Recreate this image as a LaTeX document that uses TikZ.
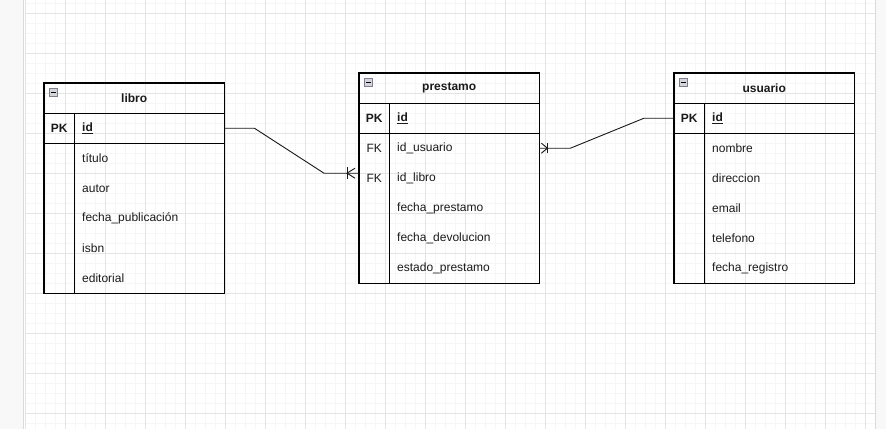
\documentclass[tikz,border=0pt]{standalone}
\usepackage{fontspec}
\setmainfont{Liberation Sans}
\usetikzlibrary{calc}
\definecolor{gridminor}{HTML}{F6F6F6}
\definecolor{gridmajor}{HTML}{E4E4E4}
\definecolor{panel}{HTML}{F8F8F8}
\definecolor{paneledge}{HTML}{DADADA}
\definecolor{txt}{HTML}{1A1A1A}
\definecolor{icfill}{HTML}{D4D4DC}
\definecolor{icedge}{HTML}{7E7E8E}
\tikzset{
  frame/.style={draw=black, line width=1.1pt},
  hdr/.style={anchor=north west, minimum width=180pt, minimum height=30pt, inner sep=0pt, font=\fontsize{12pt}{14pt}\selectfont\bfseries, text=txt},
  keyc/.style={anchor=north west, minimum width=30pt, minimum height=30pt, inner sep=0pt, text=txt},
  fieldc/.style={anchor=north west, text width=134pt, inner xsep=8pt, inner ysep=0pt, minimum height=30pt, align=left, text=txt},
  icon/.style={anchor=north west, draw=icedge, fill=icfill, line width=0.8pt, minimum size=8pt, inner sep=0pt},
  conn/.style={draw=black!90, line width=0.9pt},
  gminor/.style={draw=gridminor, line width=0.8pt},
  gmajor/.style={draw=gridmajor, line width=0.9pt},
}
\newcommand{\minusic}[1]{\draw[black, line width=0.9pt] ($(#1.center)+(-2.5,0)$) -- ($(#1.center)+(2.5,0)$);}
\begin{document}
\begin{tikzpicture}[x=1pt,y=-1pt, font=\fontsize{12pt}{14pt}\selectfont]
\useasboundingbox (0,0) rectangle (886,429);
\fill[white] (0,0) rectangle (886,429);
% side panels
\fill[panel] (0,0) rectangle (23,429);
\draw[paneledge, line width=1pt] (23.5,0) -- (23.5,429);
\fill[panel] (875,0) rectangle (886,429);
\draw[paneledge, line width=1pt] (875.5,0) -- (875.5,429);
% grid
\foreach \x in {35,45,...,865} \draw[gminor] (\x,0) -- (\x,429);
\foreach \y in {3,13,...,423} \draw[gminor] (25,\y) -- (875,\y);
\foreach \x in {25,65,...,865} \draw[gmajor] (\x,0) -- (\x,429);
\foreach \y in {13,53,...,413} \draw[gmajor] (25,\y) -- (875,\y);

% ---------- libro ----------
\node[hdr] (libro) at (44,83) {libro};
\node[icon] (libro-ic) at (49,88) {};
\minusic{libro-ic}
\node[keyc] (libro-pk) at (44,113) {\textbf{PK}};
\node[fieldc] (libro-id) at (74,113) {\underline{\textbf{id}}};
\node[keyc] (libro-k1) at (44,143) {};
\node[fieldc] (libro-f1) at (74,143) {título};
\node[keyc] (libro-k2) at (44,173) {};
\node[fieldc] (libro-f2) at (74,173) {autor};
\node[keyc] (libro-k3) at (44,203) {};
\node[fieldc] (libro-f3) at (74,203) {fecha\_publicación};
\node[keyc] (libro-k4) at (44,233) {};
\node[fieldc] (libro-f4) at (74,233) {isbn};
\node[keyc] (libro-k5) at (44,263) {};
\node[fieldc] (libro-f5) at (74,263) {editorial};
\draw[frame] (libro.north west) rectangle (libro-f5.south east);
\draw[frame] (libro.south west) -- (libro.south east);
\draw[frame] (libro-pk.south west) -- (libro-id.south east);
\draw[frame] (libro-pk.north east) -- (libro-k5.south east);

% ---------- prestamo ----------
\node[hdr] (prestamo) at (359,73) {prestamo};
\node[icon] (prestamo-ic) at (364,78) {};
\minusic{prestamo-ic}
\node[keyc] (prestamo-pk) at (359,103) {\textbf{PK}};
\node[fieldc] (prestamo-id) at (389,103) {\underline{\textbf{id}}};
\node[keyc] (prestamo-k1) at (359,133) {FK};
\node[fieldc] (prestamo-f1) at (389,133) {id\_usuario};
\node[keyc] (prestamo-k2) at (359,163) {FK};
\node[fieldc] (prestamo-f2) at (389,163) {id\_libro};
\node[keyc] (prestamo-k3) at (359,193) {};
\node[fieldc] (prestamo-f3) at (389,193) {fecha\_prestamo};
\node[keyc] (prestamo-k4) at (359,223) {};
\node[fieldc] (prestamo-f4) at (389,223) {fecha\_devolucion};
\node[keyc] (prestamo-k5) at (359,253) {};
\node[fieldc] (prestamo-f5) at (389,253) {estado\_prestamo};
\draw[frame] (prestamo.north west) rectangle (prestamo-f5.south east);
\draw[frame] (prestamo.south west) -- (prestamo.south east);
\draw[frame] (prestamo-pk.south west) -- (prestamo-id.south east);
\draw[frame] (prestamo-pk.north east) -- (prestamo-k5.south east);

% ---------- usuario ----------
\node[hdr] (usuario) at (674,73) {usuario};
\node[icon] (usuario-ic) at (679,78) {};
\minusic{usuario-ic}
\node[keyc] (usuario-pk) at (674,103) {\textbf{PK}};
\node[fieldc] (usuario-id) at (704,103) {\underline{\textbf{id}}};
\node[keyc] (usuario-k1) at (674,133) {};
\node[fieldc] (usuario-f1) at (704,133) {nombre};
\node[keyc] (usuario-k2) at (674,163) {};
\node[fieldc] (usuario-f2) at (704,163) {direccion};
\node[keyc] (usuario-k3) at (674,193) {};
\node[fieldc] (usuario-f3) at (704,193) {email};
\node[keyc] (usuario-k4) at (674,223) {};
\node[fieldc] (usuario-f4) at (704,223) {telefono};
\node[keyc] (usuario-k5) at (674,253) {};
\node[fieldc] (usuario-f5) at (704,253) {fecha\_registro};
\draw[frame] (usuario.north west) rectangle (usuario-f5.south east);
\draw[frame] (usuario.south west) -- (usuario.south east);
\draw[frame] (usuario-pk.south west) -- (usuario-id.south east);
\draw[frame] (usuario-pk.north east) -- (usuario-k5.south east);

% ---------- connectors ----------
\coordinate (endL) at ([yshift=5pt]prestamo-k2.west);
\draw[conn] (libro-id.east) -- ++(30,0) -- ($(endL)+(-35,0)$) -- (endL);
\draw[conn] ($(endL)+(-12,-6)$) -- ($(endL)+(-12,6)$);
\draw[conn] ($(endL)+(-4,-5)$) -- ($(endL)+(-12,0)$) -- ($(endL)+(-4,5)$);

\coordinate (endR) at (prestamo-f1.east);
\draw[conn] (usuario-pk.west) -- ++(-30,0) -- ($(endR)+(31,0)$) -- (endR);
\draw[conn] ($(endR)+(8,-5)$) -- ($(endR)+(8,5)$);
\draw[conn] ($(endR)+(2,-5)$) -- ($(endR)+(8,0)$) -- ($(endR)+(2,5)$);
\end{tikzpicture}
\end{document}
